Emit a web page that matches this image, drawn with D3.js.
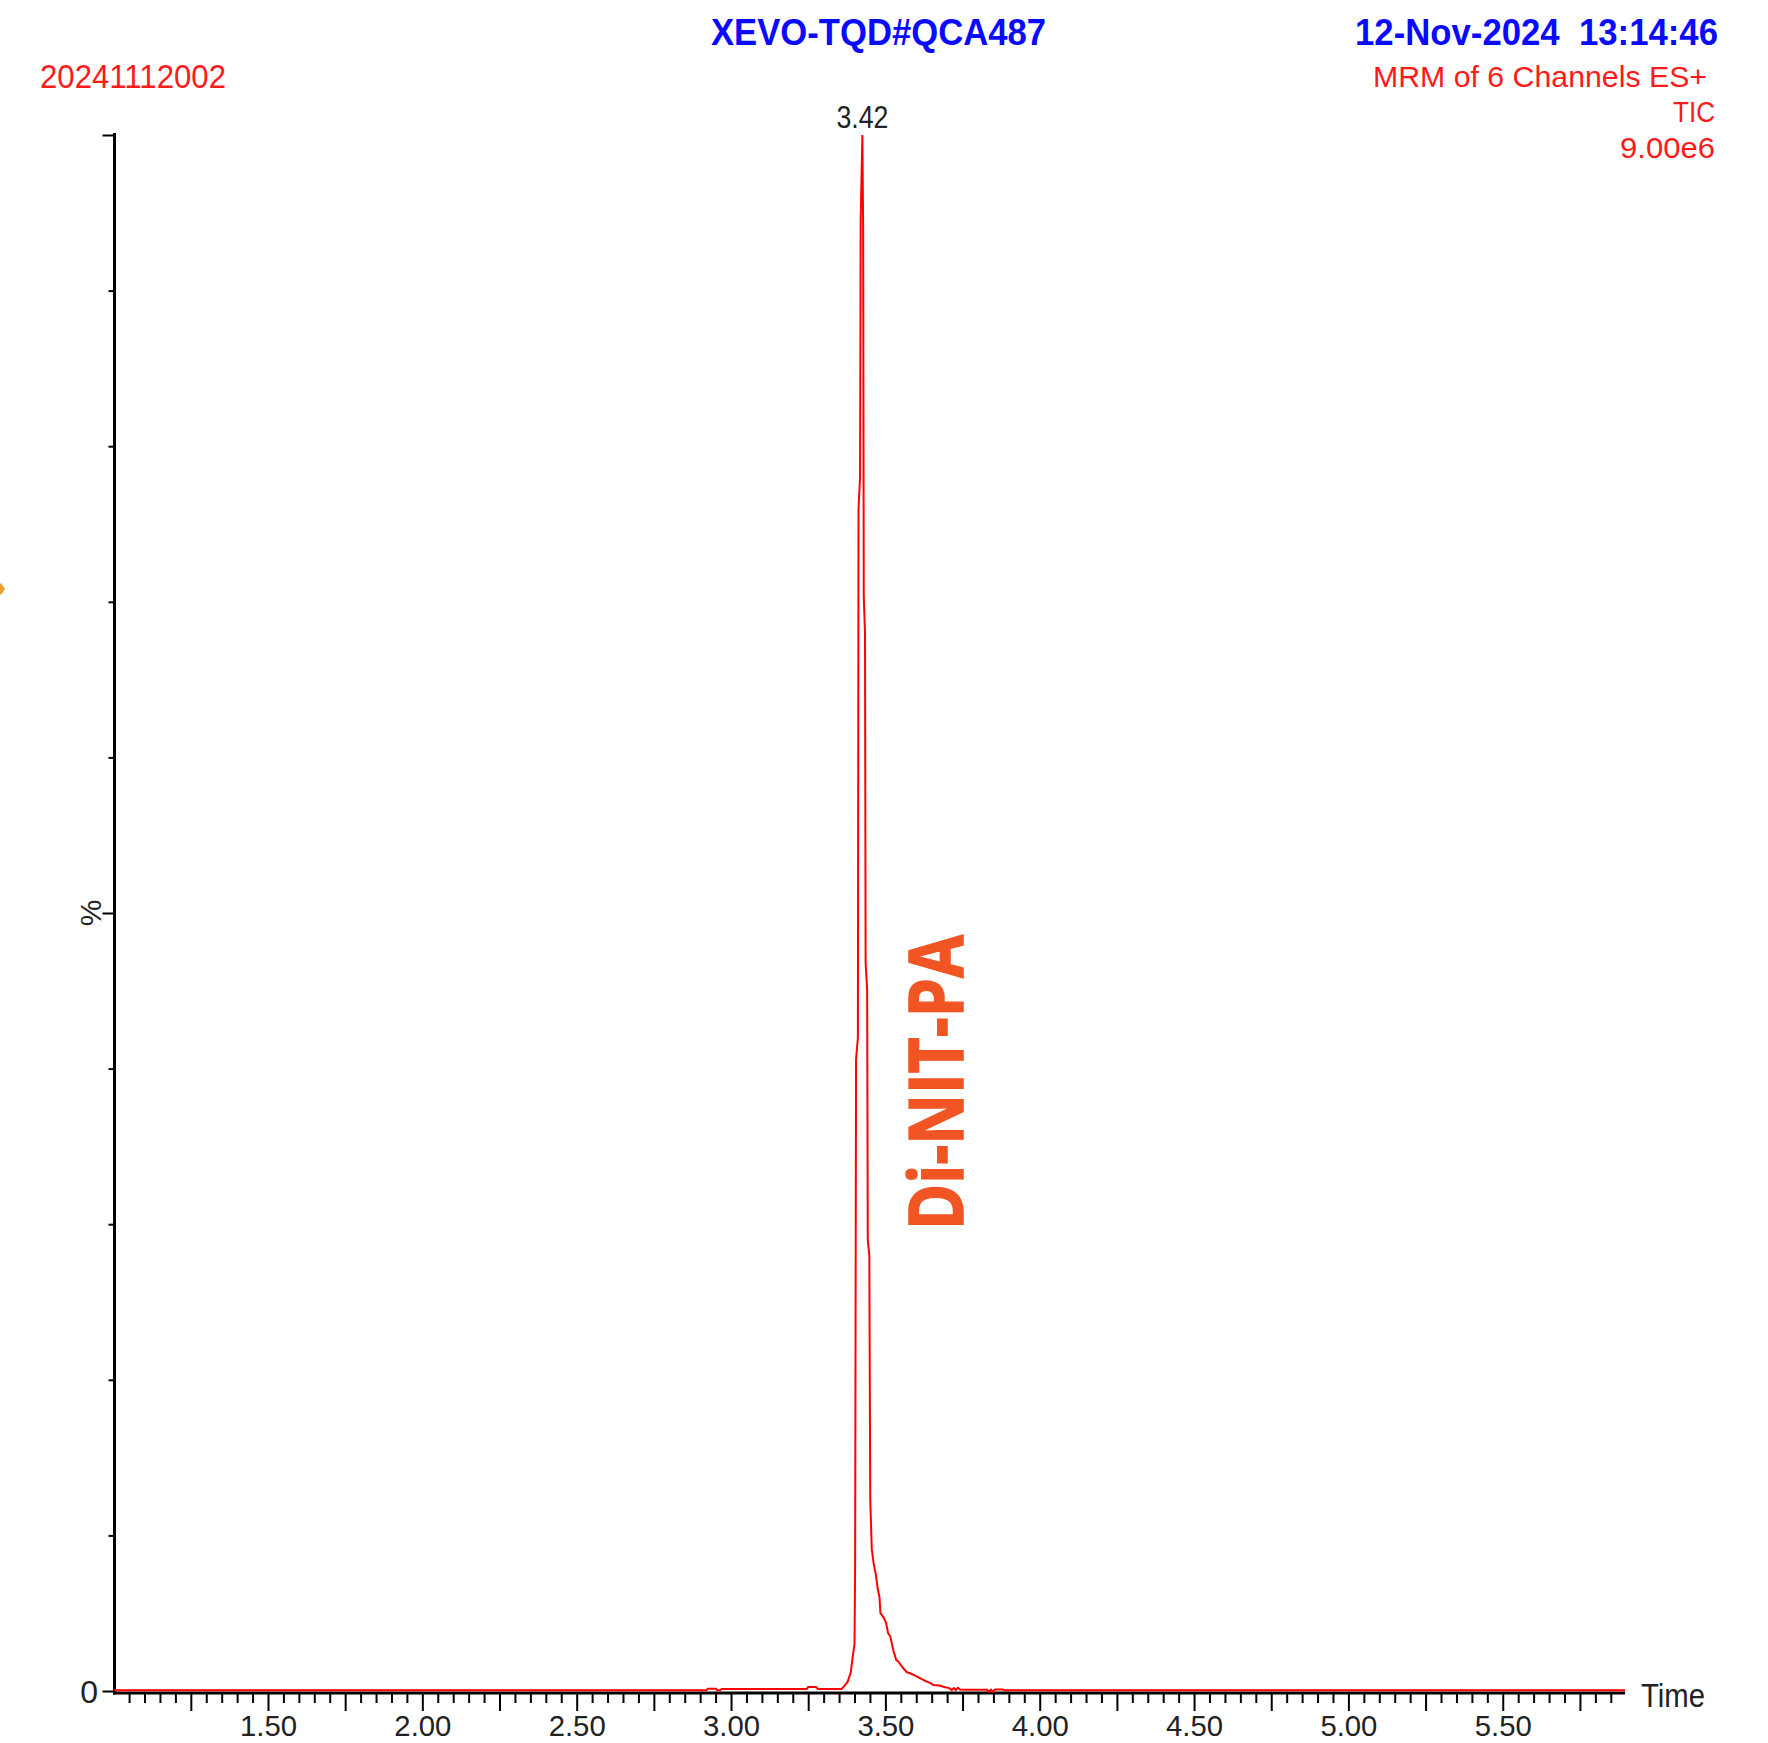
<!DOCTYPE html>
<html><head><meta charset="utf-8">
<script src="https://cdn.jsdelivr.net/npm/d3@7"></script>
<style>body{margin:0;background:#fff} svg{display:block} text{white-space:pre}</style>
</head><body>
<svg id="c" width="1768" height="1743"></svg>
<script>
// ---- data ----
const retentionTime = [1.000,2.920,2.925,2.952,2.955,2.965,2.970,3.245,3.250,3.275,3.282,3.358,3.366,3.378,3.388,3.394,3.400,3.402,3.405,3.411,3.413,3.418,3.420,3.4255,3.428,3.430,3.434,3.436,3.441,3.443,3.448,3.451,3.456,3.462,3.469,3.475,3.481,3.484,3.495,3.502,3.509,3.516,3.526,3.535,3.542,3.558,3.570,3.580,3.595,3.607,3.620,3.634,3.645,3.655,3.675,3.693,3.705,3.715,3.722,3.728,3.735,3.742,3.764,3.829,3.835,3.842,3.848,3.855,3.880,3.885,5.896];
const relIntensity = [0.05,0.05,0.15,0.15,0.05,0.05,0.13,0.13,0.26,0.26,0.13,0.13,0.3,0.6,1.2,2.2,3.0,8.0,40.6,42,76,78,94.6,100,94,70.3,68,46.8,45,29,28,12.3,9.1,8.2,7.5,6.6,6.0,5.0,4.7,4.4,3.7,3.5,2.6,2.0,1.88,1.46,1.2,1.14,1.0,0.88,0.75,0.6,0.52,0.39,0.35,0.24,0.2,0.06,0.18,0.06,0.2,0.1,0.08,0.08,-0.05,0.08,-0.05,0.1,0.1,0.05,0.05];
const xDomain = [1.0, 5.896];
const yTickValues = [0,10,20,30,40,50,60,70,80,90,100];
const xMinorTicks = d3.range(21, 118).map(i => +(i*0.05).toFixed(2)); // 1.05 .. 5.85
const xLabelTicks = ["1.50","2.00","2.50","3.00","3.50","4.00","4.50","5.00","5.50"];
const peakLabel = {time: 3.4255, value: 100, text: "3.42"};

const svg = d3.select("#c");
const x = d3.scaleLinear().domain(xDomain).range([113.65, 1625]);
const y = d3.scaleLinear().domain([0, 100]).range([1691, 135]);
const axisY = 1693, axisX = 114.5;
const FONT = "'Liberation Sans', Arial, sans-serif";

function txt(t, o) {
  const e = svg.append("text").text(t)
    .attr("x", o.x).attr("y", o.y)
    .attr("xml:space", "preserve")
    .attr("font-family", FONT).attr("font-size", o.size)
    .attr("font-weight", o.bold ? "bold" : "normal")
    .attr("fill", o.fill).attr("text-anchor", o.anchor || "start");
  if (o.len) e.attr("textLength", o.len).attr("lengthAdjust", "spacingAndGlyphs");
  if (o.transform) e.attr("transform", o.transform);
  return e;
}
txt("20241112002", {x: 40, y: 88, size: 34, fill: "#ff1a1a", len: 186});
txt("XEVO-TQD#QCA487", {x: 711, y: 45, size: 37, bold: true, fill: "#0a0aff", len: 335});
txt("12-Nov-2024  13:14:46", {x: 1355, y: 45, size: 37, bold: true, fill: "#0a0aff", len: 363});
txt("MRM of 6 Channels ES+", {x: 1373, y: 87, size: 30, fill: "#ff1a1a", len: 334});
txt("TIC", {x: 1673, y: 121.5, size: 30, fill: "#ff1a1a", len: 42});
txt("9.00e6", {x: 1620, y: 158, size: 30, fill: "#ff1a1a", len: 95});

// small orange marker at left edge
svg.append("path").attr("d", "M-5,589L1,583L5,589L1,595Z").attr("fill", "#e8a030");

// x axis ticks
const gx = svg.append("g").attr("transform", `translate(0,${axisY})`);
const isMajor = v => Math.abs(v*4 - Math.round(v*4)) < 1e-6;
gx.call(d3.axisBottom(x).tickValues(xMinorTicks).tickSizeOuter(0)
  .tickFormat(v => xLabelTicks.includes(v.toFixed(2)) ? v.toFixed(2) : ""));
gx.select(".domain").remove();
gx.selectAll(".tick line").attr("stroke", "#000").attr("stroke-width", 2)
  .attr("y2", d => isMajor(d) ? 18 : 10);
gx.selectAll(".tick text").attr("y", 43).attr("dy", 0)
  .attr("font-family", FONT).attr("font-size", 30).attr("fill", "#222")
  .each(function(d){ if (this.textContent) d3.select(this).attr("textLength", 57).attr("lengthAdjust","spacingAndGlyphs"); });

// y axis ticks
const gy = svg.append("g").attr("transform", `translate(${axisX},0)`);
gy.call(d3.axisLeft(y).tickValues(yTickValues).tickFormat(""));
gy.select(".domain").remove();
gy.selectAll(".tick line").attr("stroke", "#000").attr("stroke-width", 2)
  .attr("x2", d => (d % 50 === 0) ? -12 : -6);

// axis lines
svg.append("line").attr("x1", axisX).attr("x2", axisX).attr("y1", y(100) - 2).attr("y2", axisY + 1.5)
  .attr("stroke", "#000").attr("stroke-width", 3);
svg.append("line").attr("x1", axisX - 1.5).attr("x2", x(xDomain[1])).attr("y1", axisY).attr("y2", axisY)
  .attr("stroke", "#000").attr("stroke-width", 3);

// y labels
txt("0", {x: 98, y: 1703, size: 32, fill: "#222", anchor: "end"});
txt("%", {x: 0, y: 0, size: 30, fill: "#222", anchor: "middle", transform: `translate(101,${y(50)}) rotate(-90)`});
txt("Time", {x: 1641, y: 1707, size: 33, fill: "#222", len: 64});

// trace
const pts = retentionTime.map((t, i) => [t, relIntensity[i]]);
svg.append("path").datum(pts)
  .attr("d", d3.line().x(d => x(d[0])).y(d => y(d[1])))
  .attr("fill", "none").attr("stroke", "#ff0000").attr("stroke-width", 2)
  .attr("stroke-linejoin", "miter");

// peak label
txt(peakLabel.text, {x: x(peakLabel.time), y: y(peakLabel.value) - 7, size: 31, fill: "#222", anchor: "middle", len: 52});

// compound annotation
svg.append("text").text("Di-NIT-PA")
  .attr("transform", "translate(963,1082.5) rotate(-90)")
  .attr("text-anchor", "middle")
  .attr("font-family", "'Open Sans', Lato, sans-serif").attr("font-weight", "bold")
  .attr("font-size", 76).attr("fill", "#f05523")
  .attr("stroke", "#f05523").attr("stroke-width", 1.5)
  .attr("textLength", 295).attr("lengthAdjust", "spacingAndGlyphs");
</script>
</body></html>
